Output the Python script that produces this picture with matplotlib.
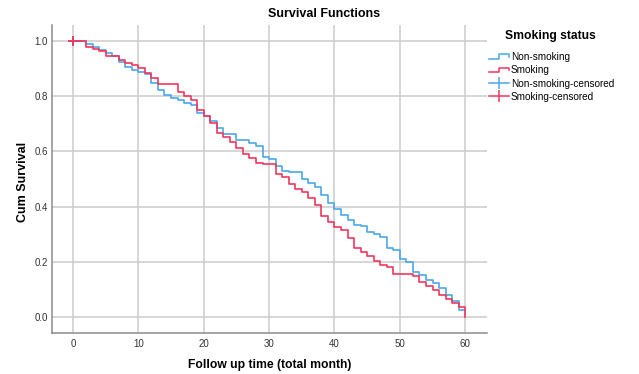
import matplotlib
matplotlib.use("Agg")
import matplotlib.pyplot as plt
from matplotlib.lines import Line2D
from matplotlib.legend_handler import HandlerBase

plt.rcParams['font.family'] = ['Liberation Sans', 'DejaVu Sans']

# Follow-up months and Kaplan-Meier cumulative survival per group
months = list(range(0, 61))

surv_non_smoking = [
    1.000, 1.000, 0.988, 0.975, 0.966, 0.954, 0.944, 0.924, 0.903, 0.894,
    0.888, 0.879, 0.846, 0.822, 0.803, 0.792, 0.784, 0.776, 0.767, 0.737,
    0.729, 0.708, 0.685, 0.664, 0.664, 0.641, 0.641, 0.629, 0.620, 0.581,
    0.571, 0.547, 0.530, 0.524, 0.524, 0.499, 0.487, 0.470, 0.442, 0.414,
    0.392, 0.370, 0.352, 0.334, 0.330, 0.310, 0.300, 0.290, 0.251, 0.245,
    0.211, 0.199, 0.164, 0.155, 0.137, 0.123, 0.105, 0.083, 0.058, 0.027,
    0.027,
]

surv_smoking = [
    1.000, 1.000, 0.975, 0.968, 0.961, 0.945, 0.945, 0.930, 0.920, 0.912,
    0.902, 0.884, 0.866, 0.842, 0.842, 0.842, 0.813, 0.800, 0.785, 0.749,
    0.729, 0.701, 0.667, 0.652, 0.632, 0.611, 0.591, 0.575, 0.559, 0.553,
    0.553, 0.518, 0.509, 0.483, 0.464, 0.454, 0.430, 0.406, 0.366, 0.346,
    0.328, 0.316, 0.286, 0.250, 0.238, 0.222, 0.204, 0.190, 0.181, 0.157,
    0.157, 0.157, 0.150, 0.127, 0.113, 0.100, 0.082, 0.066, 0.052, 0.039,
    0.000,
]

# censored observations (time, survival)
censored_non_smoking = ([0], [1.0])
censored_smoking = ([0], [1.0])

x_ticks = [0, 10, 20, 30, 40, 50, 60]
y_ticks = [0.0, 0.2, 0.4, 0.6, 0.8, 1.0]
legend_title = "Smoking status"
legend_labels = ["Non-smoking", "Smoking", "Non-smoking-censored", "Smoking-censored"]

BLUE = "#4aa8ec"
RED = "#f2365c"
GRID = "#cccccc"
SPINE = "#8c8c8c"

W, H = 639, 374


class StepHandler(HandlerBase):
    """Legend key drawn as a small survival step."""
    def create_artists(self, legend, orig_handle, xdescent, ydescent,
                       width, height, fontsize, trans):
        x0 = -xdescent
        y0 = -ydescent
        xm = x0 + width * 0.5
        x1 = x0 + width
        ylo = y0 + height * 0.2
        yhi = y0 + height * 0.8
        line = Line2D([x0, xm, xm, x1, x1], [ylo, ylo, yhi, yhi, yhi - height * 0.35],
                      color=orig_handle.get_color(), lw=1.1, transform=trans)
        return [line]


fig = plt.figure(figsize=(W / 100, H / 100), dpi=100)
ax = fig.add_axes([52 / W, 1 - 333 / H, (487.5 - 52) / W, (333 - 25) / H])

ax.step(months, surv_non_smoking, where='post', color=BLUE, lw=1.2, zorder=3)
ax.step(months, surv_smoking, where='post', color=RED, lw=1.2, zorder=4)
ax.plot(*censored_non_smoking, ls='none', marker='+', ms=7, mew=1.3, color=BLUE, zorder=5)
ax.plot(*censored_smoking, ls='none', marker='+', ms=7, mew=1.3, color=RED, zorder=6)

ax.set_xlim(-3.2, 63.4)
ax.set_ylim(-0.056, 1.056)
ax.set_xticks(x_ticks)
ax.set_yticks(y_ticks)
ax.set_yticklabels([f"{v:.1f}" for v in y_ticks])
ax.grid(True, color=GRID, lw=1.1)
ax.set_axisbelow(True)
ax.tick_params(length=0, labelsize=7, colors="#333333")
ax.tick_params(axis='x', pad=4.5)
ax.tick_params(axis='y', pad=3)

for side in ("top", "right"):
    ax.spines[side].set_visible(False)
for side in ("left", "bottom"):
    ax.spines[side].set_color(SPINE)
    ax.spines[side].set_linewidth(1.1)

fig.text(324 / W, 1 - 14 / H, "Survival Functions", fontsize=9, fontweight='bold',
         ha='center', va='center')
ax.set_xlabel("Follow up time (total month)", fontsize=8.7, fontweight='bold')
ax.xaxis.set_label_coords(0.5, (333 - 359) / 308)
ax.set_ylabel("Cum Survival", fontsize=9, fontweight='bold')
ax.yaxis.set_label_coords((29 - 52) / 435.5, 0.49)

handles = [
    Line2D([], [], color=BLUE),
    Line2D([], [], color=RED),
    Line2D([0, 1], [0, 0], color=BLUE, lw=1.1, marker='|', ms=9, mew=1.1),
    Line2D([0, 1], [0, 0], color=RED, lw=1.1, marker='|', ms=9, mew=1.1),
]
fig.text(550 / W, 1 - 36 / H, legend_title, fontsize=8.7, fontweight='bold',
         ha='center', va='center')
leg = fig.legend(handles, legend_labels,
                 loc='upper left', bbox_to_anchor=(489 / W, 1 - 52 / H),
                 frameon=False, fontsize=7.2,
                 handlelength=2.0, handletextpad=0.2, labelspacing=0.33,
                 borderpad=0.0, borderaxespad=0.0, numpoints=1,
                 handler_map={handles[0]: StepHandler(), handles[1]: StepHandler()})

fig.savefig("out.png", dpi=100)
